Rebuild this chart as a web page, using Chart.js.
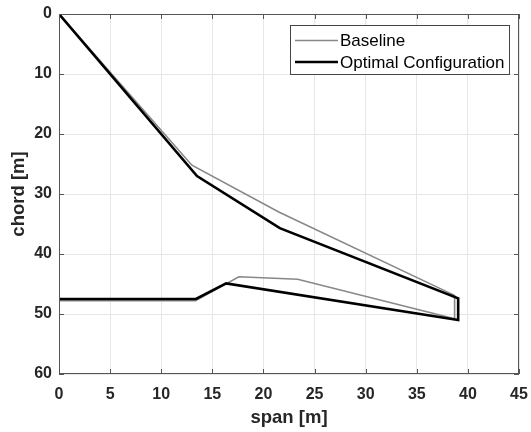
<!DOCTYPE html>
<html><head><meta charset="utf-8">
<script src="https://cdn.jsdelivr.net/npm/chart.js@4/dist/chart.umd.min.js"></script>
<style>html,body{margin:0;padding:0;background:#fff}</style>
</head><body>
<canvas id="c" width="531" height="432"></canvas>
<script>
// ---- data ----
const seriesNames = ["Baseline", "Optimal Configuration"];
const baselineSpan  = [0, 13.0, 21.5, 38.7, 38.7, 23.35, 17.6, 13.35, 0];
const baselineChord = [0, 25.2, 33.0, 46.9, 50.8, 44.2, 43.8, 47.8, 47.8];
const optimalSpan   = [0, 13.5, 21.6, 39.05, 39.05, 16.35, 13.4, 0];
const optimalChord  = [0, 27.0, 35.7, 47.4, 51.0, 44.9, 47.5, 47.5];
const xTicks = [0, 5, 10, 15, 20, 25, 30, 35, 40, 45];
const yTicks = [0, 10, 20, 30, 40, 50, 60];
const xTitle = "span [m]";
const yTitle = "chord [m]";

const FONT = '"Liberation Sans", Arial, Helvetica, sans-serif';
const toPts = (xs, ys) => xs.map((x, i) => ({x: x, y: ys[i]}));

const frameAndTicks = {
  id: 'frameAndTicks',
  afterDatasetsDraw(chart) {
    const {ctx, chartArea: a, scales} = chart;
    ctx.save();
    ctx.strokeStyle = '#555';
    ctx.lineWidth = 1;
    ctx.strokeRect(a.left + 0.5, a.top + 0.5, a.right - a.left - 1, a.bottom - a.top - 1);
    const L = 5;
    ctx.beginPath();
    xTicks.forEach(v => {
      const px = Math.round(scales.x.getPixelForValue(v)) + 0.5;
      ctx.moveTo(px, a.bottom); ctx.lineTo(px, a.bottom - L);
      ctx.moveTo(px, a.top); ctx.lineTo(px, a.top + L);
    });
    yTicks.forEach(v => {
      const py = Math.round(scales.y.getPixelForValue(v)) + 0.5;
      ctx.moveTo(a.left, py); ctx.lineTo(a.left + L, py);
      ctx.moveTo(a.right, py); ctx.lineTo(a.right - L, py);
    });
    ctx.stroke();
    ctx.restore();
  },
  afterDraw(chart) {
    const {ctx} = chart;
    ctx.save();
    const bx = 290.5, by = 25.5, bw = 219, bh = 49;
    ctx.fillStyle = '#fff';
    ctx.fillRect(bx, by, bw, bh);
    ctx.strokeStyle = '#444';
    ctx.lineWidth = 1;
    ctx.strokeRect(bx, by, bw, bh);
    const rows = [40.5, 62];
    seriesNames.forEach((name, i) => {
      const ds = chart.data.datasets.find(d => d.label === name);
      const y = rows[i];
      ctx.strokeStyle = ds.borderColor;
      ctx.lineWidth = ds.borderWidth;
      ctx.beginPath();
      ctx.moveTo(295, y); ctx.lineTo(338, y);
      ctx.stroke();
      ctx.fillStyle = '#000';
      ctx.font = '17px ' + FONT;
      ctx.textBaseline = 'middle';
      ctx.textAlign = 'left';
      ctx.fillText(ds.label, 340, y + 1);
    });
    ctx.restore();
  }
};

new Chart(document.getElementById('c'), {
  type: 'scatter',
  data: {
    datasets: [
      {label: seriesNames[0], data: toPts(baselineSpan, baselineChord), showLine: true,
       borderColor: '#888888', borderWidth: 1.6, pointRadius: 0, borderJoinStyle: 'miter', order: 1},
      {label: seriesNames[1], data: toPts(optimalSpan, optimalChord), showLine: true,
       borderColor: '#000', borderWidth: 2.6, pointRadius: 0, borderJoinStyle: 'miter', order: 0}
    ]
  },
  options: {
    responsive: false,
    devicePixelRatio: 1,
    animation: false,
    layout: {padding: {top: 14, right: 12, left: 0, bottom: 0}},
    plugins: {legend: {display: false}, tooltip: {enabled: false}},
    scales: {
      x: {
        type: 'linear', min: 0, max: 45,
        afterBuildTicks: s => { s.ticks = xTicks.map(v => ({value: v})); },
        afterFit: s => { s.height = 58; s.paddingLeft = 0; s.paddingRight = 0; },
        grid: {color: '#e6e6e6', drawTicks: false, tickLength: 0},
        border: {display: false},
        ticks: {color: '#262626', font: {family: FONT, size: 16, weight: 'bold'}, padding: 11, maxRotation: 0},
        title: {display: true, text: xTitle, color: '#262626', font: {family: FONT, size: 18.5, weight: 'bold'}, padding: {top: 0, bottom: 3}}
      },
      y: {
        type: 'linear', min: 0, max: 60, reverse: true,
        afterBuildTicks: s => { s.ticks = yTicks.map(v => ({value: v})); },
        afterFit: s => { s.width = 59; s.paddingTop = 0; s.paddingBottom = 0; },
        grid: {color: '#e6e6e6', drawTicks: false, tickLength: 0},
        border: {display: false},
        ticks: {color: '#262626', font: {family: FONT, size: 16, weight: 'bold'}, padding: 7},
        title: {display: true, text: yTitle, color: '#262626', font: {family: FONT, size: 18.5, weight: 'bold'}, padding: {top: 8, bottom: 0}}
      }
    }
  },
  plugins: [frameAndTicks]
});
</script>
</body></html>
